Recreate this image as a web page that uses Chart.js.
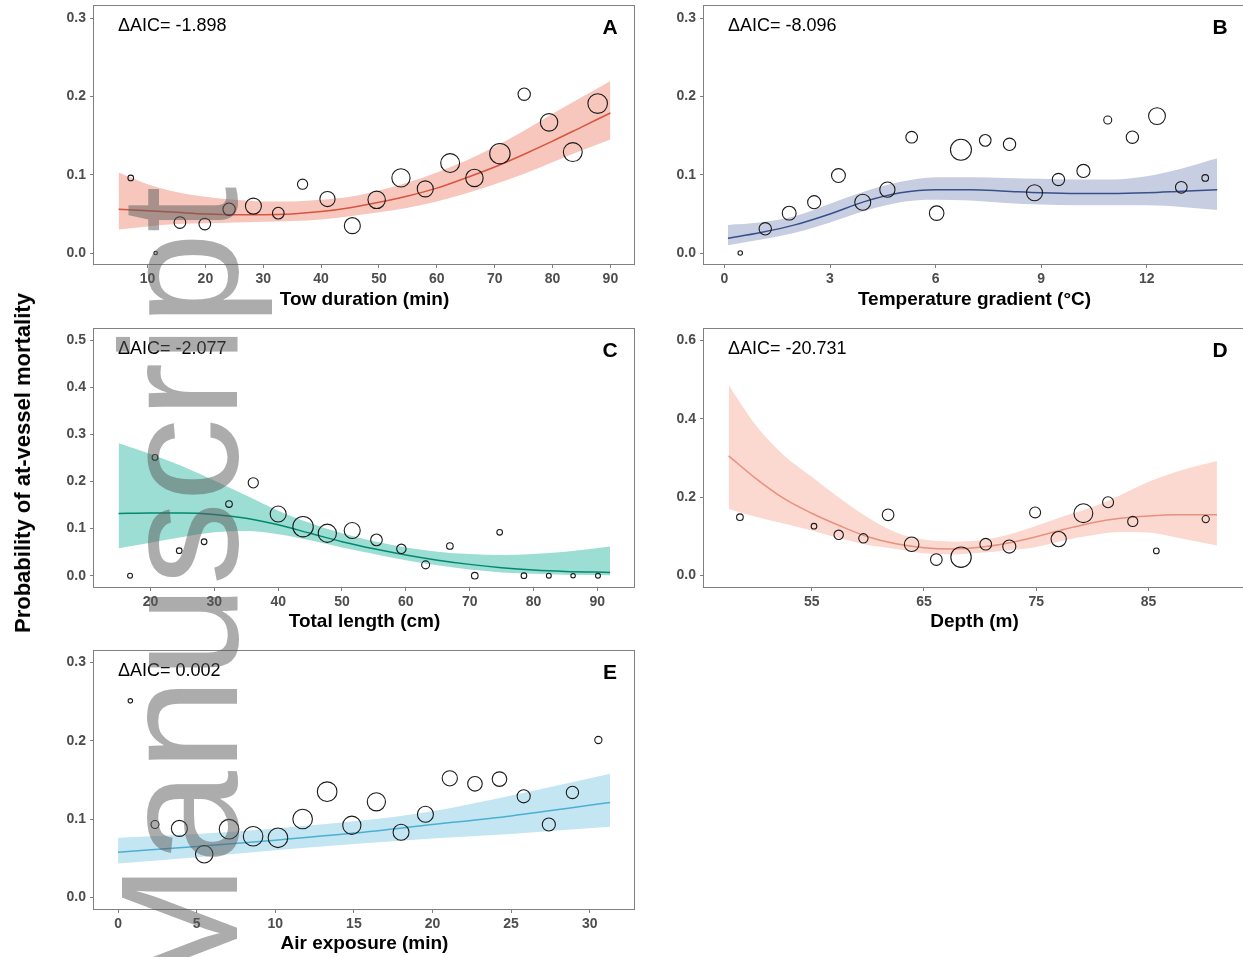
<!DOCTYPE html>
<html>
<head>
<meta charset="utf-8">
<script src="https://cdn.jsdelivr.net/npm/chart.js@4.4.1/dist/chart.umd.min.js"></script>
<style>
  html, body { margin: 0; padding: 0; background: #fff; overflow: hidden; width: 1243px; height: 957px; }
  canvas { position: absolute; }
  #ytitle {
    position: absolute; left: 23px; top: 463px;
    transform: translate(-50%, -50%) rotate(-90deg);
    font: bold 22px 'Liberation Sans', Arial, sans-serif; white-space: nowrap; color: #000;
  }
  #wm {
    position: absolute; left: 0; top: 0; transform-origin: 0 0;
    transform: translate(96px, 1003px) rotate(-90deg);
    font: 167px 'Liberation Sans', Arial, sans-serif; line-height: 1;
    color: rgba(90, 90, 90, 0.5); white-space: nowrap; pointer-events: none;
  }
</style>
</head>
<body>
<canvas id="cA" width="660" height="335" style="left:0px;top:-15px"></canvas>
<canvas id="cB" width="630" height="335" style="left:640px;top:-15px"></canvas>
<canvas id="cC" width="660" height="335" style="left:0px;top:307px"></canvas>
<canvas id="cD" width="630" height="335" style="left:640px;top:307px"></canvas>
<canvas id="cE" width="660" height="335" style="left:0px;top:629px"></canvas>
<div id="ytitle">Probability of at-vessel mortality</div>
<div id="wm">Manuscript</div>
<script>
// A - tow duration
const towX = [7.1, 11.4, 15.6, 19.9, 24.1, 28.3, 32.6, 36.8, 41.1, 45.4, 49.6, 53.8, 58.0, 62.3, 66.5, 70.9, 75.1, 79.4, 83.5, 87.8];
const towP = [0.096, 0.000, 0.039, 0.037, 0.056, 0.060, 0.051, 0.088, 0.069, 0.035, 0.068, 0.096, 0.082, 0.115, 0.096, 0.127, 0.203, 0.167, 0.129, 0.191];
const towN = [8, 3, 34, 34, 38, 64, 34, 26, 58, 64, 76, 83, 64, 89, 76, 104, 38, 76, 89, 96];
const towFitX = [5, 10, 15, 20, 25, 30, 35, 40, 45, 50, 55, 60, 65, 70, 75, 80, 85, 90];
const towFit = [0.056, 0.054, 0.052, 0.050, 0.049, 0.049, 0.050, 0.053, 0.058, 0.065, 0.073, 0.083, 0.096, 0.110, 0.126, 0.143, 0.161, 0.179];
const towLo = [0.030, 0.034, 0.037, 0.038, 0.039, 0.040, 0.041, 0.043, 0.047, 0.052, 0.058, 0.066, 0.076, 0.088, 0.101, 0.116, 0.131, 0.145];
const towHi = [0.103, 0.088, 0.078, 0.072, 0.068, 0.066, 0.066, 0.068, 0.072, 0.080, 0.090, 0.103, 0.118, 0.136, 0.156, 0.178, 0.199, 0.220];

// B - temperature gradient
const tempX = [0.45, 1.16, 1.84, 2.55, 3.24, 3.93, 4.63, 5.32, 6.03, 6.72, 7.41, 8.10, 8.81, 9.49, 10.20, 10.89, 11.59, 12.29, 12.98, 13.66];
const tempP = [0.000, 0.031, 0.051, 0.065, 0.099, 0.065, 0.081, 0.148, 0.051, 0.132, 0.144, 0.139, 0.077, 0.094, 0.105, 0.170, 0.148, 0.175, 0.084, 0.096];
const tempN = [5, 38, 48, 43, 48, 64, 58, 34, 53, 110, 34, 38, 64, 38, 43, 16, 38, 71, 34, 11];
const tempFitX = [0.1, 1, 2, 3, 4, 5, 6, 7, 8, 9, 10, 11, 12, 13, 14];
const tempFit = [0.019, 0.026, 0.036, 0.050, 0.066, 0.077, 0.081, 0.081, 0.079, 0.077, 0.076, 0.076, 0.077, 0.079, 0.081];
const tempLo = [0.010, 0.017, 0.026, 0.039, 0.054, 0.065, 0.068, 0.067, 0.064, 0.062, 0.061, 0.061, 0.061, 0.059, 0.055];
const tempHi = [0.036, 0.039, 0.047, 0.063, 0.079, 0.091, 0.097, 0.097, 0.096, 0.095, 0.094, 0.094, 0.098, 0.108, 0.121];

// C - total length
const lenX = [16.8, 20.7, 24.5, 28.4, 32.3, 36.1, 40.0, 43.9, 47.7, 51.6, 55.4, 59.3, 63.1, 66.9, 70.8, 74.7, 78.5, 82.4, 86.2, 90.1];
const lenP = [0.000, 0.251, 0.053, 0.072, 0.152, 0.197, 0.131, 0.104, 0.090, 0.096, 0.076, 0.057, 0.023, 0.063, 0.000, 0.092, 0.000, 0.000, 0.000, 0.000];
const lenN = [6, 8, 8, 8, 11, 26, 64, 104, 83, 64, 34, 22, 16, 11, 11, 8, 8, 6, 5, 6];
const lenFitX = [15, 20, 25, 30, 35, 40, 45, 50, 55, 60, 65, 70, 75, 80, 85, 92];
const lenFit = [0.132, 0.133, 0.133, 0.130, 0.122, 0.108, 0.090, 0.072, 0.057, 0.044, 0.033, 0.024, 0.017, 0.012, 0.009, 0.007];
const lenLo = [0.058, 0.070, 0.082, 0.092, 0.095, 0.088, 0.075, 0.060, 0.046, 0.033, 0.022, 0.013, 0.007, 0.004, 0.002, 0.001];
const lenHi = [0.281, 0.258, 0.232, 0.202, 0.170, 0.138, 0.112, 0.090, 0.073, 0.060, 0.051, 0.046, 0.044, 0.046, 0.051, 0.062];

// D - depth
const depX = [48.6, 55.2, 57.4, 59.6, 61.8, 63.9, 66.1, 68.3, 70.5, 72.6, 74.9, 77.0, 79.2, 81.4, 83.6, 85.7, 90.1];
const depP = [0.149, 0.126, 0.104, 0.095, 0.155, 0.080, 0.041, 0.047, 0.080, 0.074, 0.161, 0.093, 0.159, 0.187, 0.138, 0.063, 0.144];
const depN = [11, 8, 22, 22, 34, 53, 34, 104, 34, 43, 30, 58, 89, 30, 26, 8, 13];
const depFitX = [47.6, 50, 52.5, 55, 57.5, 60, 62.5, 65, 67.5, 70, 72.5, 75, 77.5, 80, 82.5, 85, 87.5, 91.1];
const depFit = [0.305, 0.248, 0.197, 0.159, 0.127, 0.099, 0.081, 0.071, 0.068, 0.072, 0.083, 0.099, 0.118, 0.135, 0.146, 0.152, 0.155, 0.155];
const depLo = [0.170, 0.150, 0.133, 0.115, 0.095, 0.078, 0.068, 0.057, 0.054, 0.058, 0.064, 0.073, 0.090, 0.103, 0.111, 0.110, 0.097, 0.077];
const depHi = [0.485, 0.384, 0.307, 0.252, 0.197, 0.148, 0.110, 0.092, 0.087, 0.090, 0.104, 0.127, 0.152, 0.175, 0.205, 0.239, 0.265, 0.292];

// E - air exposure
const airX = [0.78, 2.35, 3.9, 5.48, 7.06, 8.59, 10.17, 11.74, 13.3, 14.87, 16.43, 18.0, 19.55, 21.1, 22.7, 24.26, 25.8, 27.4, 28.9, 30.55];
const airP = [0.251, 0.093, 0.088, 0.055, 0.087, 0.078, 0.076, 0.100, 0.135, 0.092, 0.122, 0.083, 0.106, 0.152, 0.145, 0.151, 0.129, 0.093, 0.134, 0.201];
const airN = [5, 16, 64, 76, 96, 96, 96, 96, 96, 83, 83, 64, 64, 58, 53, 53, 43, 43, 38, 13];
const airFitX = [0, 5, 10, 15, 20, 25, 31.3];
const airFit = [0.0575, 0.065, 0.073, 0.082, 0.093, 0.104, 0.121];
const airLo = [0.043, 0.051, 0.060, 0.068, 0.075, 0.081, 0.090];
const airHi = [0.076, 0.081, 0.088, 0.097, 0.110, 0.130, 0.158];

// tick labels
const towTicks = [10, 20, 30, 40, 50, 60, 70, 80, 90];
const tempTicks = [0, 3, 6, 9, 12];
const lenTicks = [20, 30, 40, 50, 60, 70, 80, 90];
const depTicks = [55, 65, 75, 85];
const airTicks = [0, 5, 10, 15, 20, 25, 30];
const yTicks03 = [0, 0.1, 0.2, 0.3];
const yTicks05 = [0, 0.1, 0.2, 0.3, 0.4, 0.5];
const yTicks06 = [0, 0.2, 0.4, 0.6];

const FONT = "'Liberation Sans', Arial, sans-serif";
Chart.defaults.font.family = FONT;

const xy = (xs, ys) => xs.map((x, i) => ({ x: x, y: ys[i] }));

// panel frame, delta AIC text and panel letter
const panelDecor = {
  id: 'panelDecor',
  afterDatasetsDraw(chart, args, opts) {
    const { ctx, chartArea: a } = chart;
    ctx.save();
    ctx.strokeStyle = '#808080';
    ctx.lineWidth = 1;
    ctx.strokeRect(Math.round(a.left) - 0.5, Math.round(a.top) + 0.5,
      Math.round(a.right - a.left), Math.round(a.bottom - a.top));
    ctx.fillStyle = '#000';
    ctx.textBaseline = 'middle';
    ctx.textAlign = 'left';
    ctx.font = '18px ' + FONT;
    ctx.fillText(opts.aic, a.left + 24, a.top + 21);
    ctx.textAlign = 'center';
    ctx.font = 'bold 21px ' + FONT;
    ctx.fillText(opts.tag, a.right - 25, a.top + 23);
    ctx.restore();
  }
};

function makePanel(p) {
  const cv = document.getElementById(p.id);
  const cx = parseFloat(cv.style.left), cy = parseFloat(cv.style.top);
  const cw = cv.width, ch = cv.height;
  const monotone = 'monotone';
  new Chart(cv, {
    type: 'line',
    data: {
      datasets: [
        { data: xy(p.x, p.y), showLine: false, order: 0,
          pointRadius: p.n.map(v => Math.sqrt(v)),
          pointBackgroundColor: 'rgba(0,0,0,0)', pointBorderColor: '#1a1a1a', pointBorderWidth: 1.1 },
        { data: xy(p.fx, p.fit), order: 1, borderColor: p.line, borderWidth: 1.5,
          pointRadius: 0, fill: false, cubicInterpolationMode: monotone },
        { data: xy(p.fx, p.hi), order: 2, borderColor: 'rgba(0,0,0,0)', borderWidth: 0,
          pointRadius: 0, backgroundColor: p.band, fill: 3, cubicInterpolationMode: monotone },
        { data: xy(p.fx, p.lo), order: 3, borderColor: 'rgba(0,0,0,0)', borderWidth: 0,
          pointRadius: 0, fill: false, cubicInterpolationMode: monotone }
      ]
    },
    options: {
      responsive: false,
      animation: false,
      devicePixelRatio: 1,
      events: [],
      layout: { padding: { left: 0, top: p.box.t - cy, right: cx + cw - p.box.r, bottom: 0 } },
      plugins: {
        legend: { display: false },
        tooltip: { enabled: false },
        panelDecor: { aic: p.aic, tag: p.tag }
      },
      scales: {
        x: {
          type: 'linear', min: p.xMin, max: p.xMax,
          afterFit: s => { s.height = cy + ch - p.box.b; },
          afterBuildTicks: s => { s.ticks = p.xTicks.map(v => ({ value: v })); },
          grid: { drawOnChartArea: false, drawTicks: true, tickLength: 4, color: '#808080' },
          border: { display: false },
          ticks: { padding: 3, maxRotation: 0, autoSkip: false, color: '#4d4d4d',
                   font: { size: 14, weight: 'bold' }, callback: v => String(v) },
          title: { display: true, text: p.xTitle, color: '#000',
                   font: { size: 19, weight: 'bold' }, padding: { top: 0, bottom: 9 } }
        },
        y: {
          type: 'linear', min: p.yMin, max: p.yMax,
          afterFit: s => { s.width = p.box.l - cx; },
          afterBuildTicks: s => { s.ticks = p.yTicks.map(v => ({ value: v })); },
          grid: { drawOnChartArea: false, drawTicks: true, tickLength: 4, color: '#808080' },
          border: { display: false },
          ticks: { padding: 4, color: '#4d4d4d', font: { size: 14, weight: 'bold' },
                   callback: v => v.toFixed(1) }
        }
      }
    },
    plugins: [panelDecor]
  });
}

makePanel({ id: 'cA', box: { l: 94, t: 5, r: 635, b: 264 },
  x: towX, y: towP, n: towN, fx: towFitX, fit: towFit, lo: towLo, hi: towHi,
  xMin: 0.75, xMax: 94.25, yMin: -0.014, yMax: 0.317, xTicks: towTicks, yTicks: yTicks03,
  xTitle: 'Tow duration (min)', aic: '\u0394AIC= -1.898', tag: 'A',
  line: '#d8553f', band: '#f7c6bc' });

makePanel({ id: 'cB', box: { l: 704, t: 5, r: 1245, b: 264 },
  x: tempX, y: tempP, n: tempN, fx: tempFitX, fit: tempFit, lo: tempLo, hi: tempHi,
  xMin: -0.58, xMax: 14.79, yMin: -0.014, yMax: 0.317, xTicks: tempTicks, yTicks: yTicks03,
  xTitle: 'Temperature gradient (\u00b0C)', aic: '\u0394AIC= -8.096', tag: 'B',
  line: '#37508a', band: '#c8cee1' });

makePanel({ id: 'cC', box: { l: 94, t: 328, r: 635, b: 587 },
  x: lenX, y: lenP, n: lenN, fx: lenFitX, fit: lenFit, lo: lenLo, hi: lenHi,
  xMin: 11.15, xMax: 95.9, yMin: -0.024, yMax: 0.5255, xTicks: lenTicks, yTicks: yTicks05,
  xTitle: 'Total length (cm)', aic: '\u0394AIC= -2.077', tag: 'C',
  line: '#00896f', band: '#9cded3' });

makePanel({ id: 'cD', box: { l: 704, t: 328, r: 1245, b: 587 },
  x: depX, y: depP, n: depN, fx: depFitX, fit: depFit, lo: depLo, hi: depHi,
  xMin: 45.4, xMax: 93.6, yMin: -0.029, yMax: 0.631, xTicks: depTicks, yTicks: yTicks06,
  xTitle: 'Depth (m)', aic: '\u0394AIC= -20.731', tag: 'D',
  line: '#e8917d', band: '#fbd9d0' });

makePanel({ id: 'cE', box: { l: 94, t: 650, r: 635, b: 909 },
  x: airX, y: airP, n: airN, fx: airFitX, fit: airFit, lo: airLo, hi: airHi,
  xMin: -1.53, xMax: 32.88, yMin: -0.015, yMax: 0.316, xTicks: airTicks, yTicks: yTicks03,
  xTitle: 'Air exposure (min)', aic: '\u0394AIC= 0.002', tag: 'E',
  line: '#4bafd2', band: '#c4e6f2' });
</script>
</body>
</html>
